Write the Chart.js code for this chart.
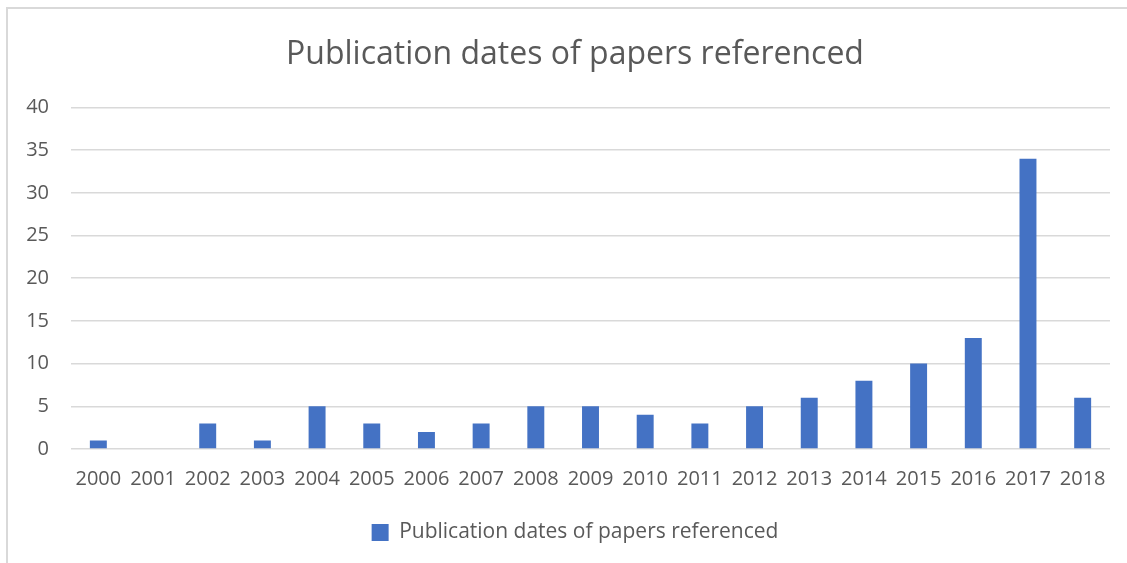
<!DOCTYPE html>
<html>
<head>
<meta charset="utf-8">
<script src="https://cdn.jsdelivr.net/npm/chart.js@4"></script>
<style>
  html, body { margin: 0; padding: 0; background: #fff; }
  #frame {
    position: absolute; left: 6px; top: 7px; width: 1130px; height: 570px;
    border-left: 2px solid #d9d9d9; border-top: 2px solid #d9d9d9;
  }
  #wrap { position: absolute; left: 0; top: 0; width: 1127px; height: 563px; }
</style>
</head>
<body>
<div id="frame"></div>
<div id="wrap"><canvas id="pubChart"></canvas></div>
<script>
// Chart data
const years = ['2000', '2001', '2002', '2003', '2004', '2005', '2006', '2007', '2008', '2009',
               '2010', '2011', '2012', '2013', '2014', '2015', '2016', '2017', '2018'];
const paperCounts = [1, 0, 3, 1, 5, 3, 2, 3, 5, 5, 4, 3, 5, 6, 8, 10, 13, 34, 6];
const seriesName = 'Publication dates of papers referenced';
const yTicks = [0, 5, 10, 15, 20, 25, 30, 35, 40];

const textColor = '#595959';
const gridColor = '#d9d9d9';
const fontFamily = '"Open Sans", "Liberation Sans", sans-serif';

// y labels hang into the left padding, so widen the label clip box after layout
const yLabelRoom = {
  id: 'yLabelRoom',
  afterLayout(chart) { chart.scales.y.left = 0; }
};

const ctx = document.getElementById('pubChart').getContext('2d');
new Chart(ctx, {
  type: 'bar',
  data: {
    labels: years,
    datasets: [{
      label: seriesName,
      data: paperCounts,
      backgroundColor: '#4472C4',
      categoryPercentage: 1,
      barPercentage: 0.31
    }]
  },
  options: {
    responsive: true,
    maintainAspectRatio: false,
    animation: false,
    // left padding is large so title/legend sit centred like the original
    layout: { padding: { top: 36, right: 17, bottom: 10, left: 40 } },
    plugins: {
      title: {
        display: true,
        text: seriesName,
        color: textColor,
        font: { family: fontFamily, size: 32, weight: 'normal' },
        padding: { top: 0, bottom: 33 }
      },
      legend: {
        position: 'bottom',
        labels: {
          color: textColor,
          font: { family: fontFamily, size: 21 },
          boxWidth: 17,
          boxHeight: 17,
          padding: 10
        }
      },
      tooltip: { enabled: false }
    },
    scales: {
      x: {
        grid: { display: false, drawTicks: false },
        border: { display: false },
        ticks: {
          color: textColor,
          font: { family: fontFamily, size: 20 },
          padding: 18,
          maxRotation: 0,
          autoSkip: false
        },
        afterFit: axis => { axis.height += 3; }
      },
      y: {
        min: 0,
        max: yTicks[yTicks.length - 1],
        afterBuildTicks: axis => { axis.ticks = yTicks.map(v => ({ value: v })); },
        grid: { color: gridColor, lineWidth: 1.5, drawTicks: false },
        border: { display: false },
        ticks: {
          color: textColor,
          font: { family: fontFamily, size: 20 },
          padding: 22
        },
        afterFit: axis => { axis.width = 31; }
      }
    }
  },
  plugins: [yLabelRoom]
});
</script>
</body>
</html>
